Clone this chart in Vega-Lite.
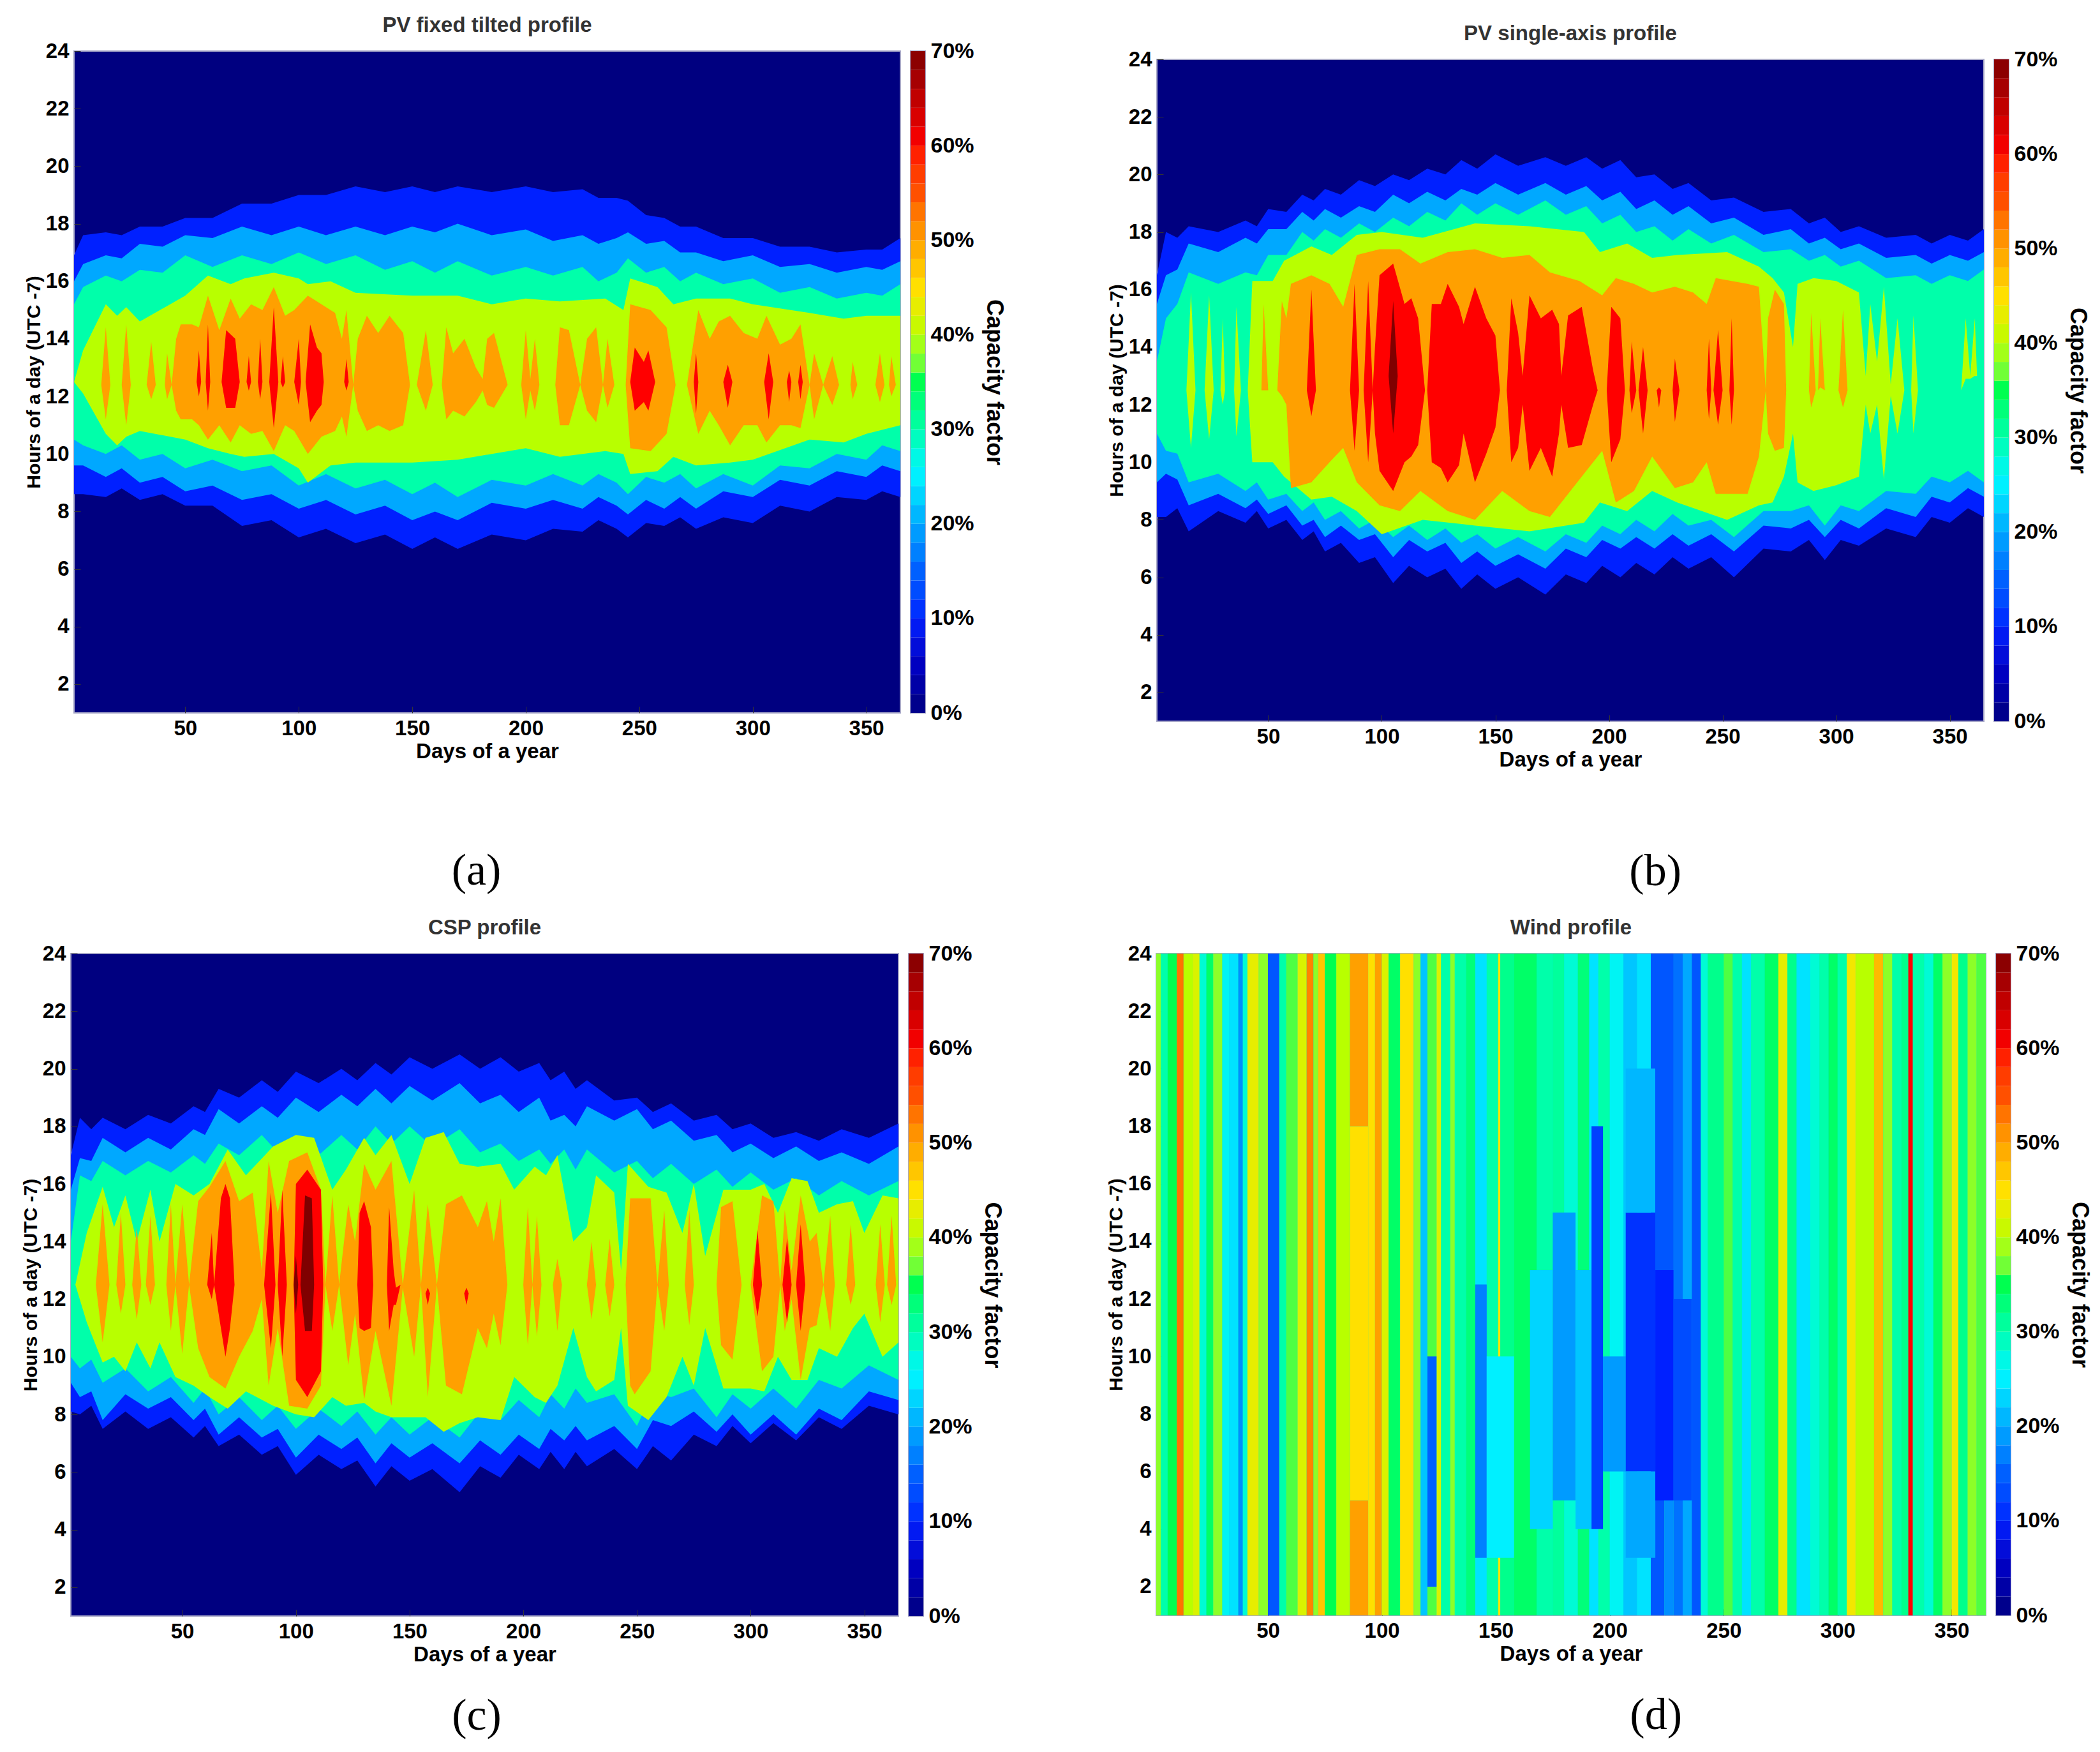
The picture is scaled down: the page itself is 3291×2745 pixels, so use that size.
{"$schema":"https://vega.github.io/schema/vega-lite/v6.json","background":"white","padding":{"left":17,"top":22,"right":5,"bottom":5},
"config":{"range":{"ramp":["#000080","#0000c0","#0020ff","#0060ff","#00a8ff","#00f0ff","#00ffaa","#00ff50","#b8ff00","#ffe000","#ffa000","#ff5000","#ff0000","#c00000","#800000"]},"font":"Liberation Sans","view":{"stroke":"#a8a8c8","strokeWidth":2},
"axis":{"labelFont":"Liberation Sans","labelFontWeight":"bold","labelFontSize":33,"titleFont":"Liberation Sans","titleFontWeight":"bold","titleFontSize":33,"domain":false,"grid":false,"tickColor":"#333333","tickSize":-10,"labelPadding":18,"titlePadding":3,"zindex":1,"labelColor":"#000000","titleColor":"#000000"},
"axisY":{"titleFontSize":30},
"title":{"font":"Liberation Sans","fontWeight":"bold","fontSize":33,"color":"#333333"},"concat":{"spacing":14}},
"datasets":{
"bar":[{"a":0,"b":2,"v":1},{"a":2,"b":4,"v":3},{"a":4,"b":6,"v":5},{"a":6,"b":8,"v":7},{"a":8,"b":10,"v":9},{"a":10,"b":12,"v":11},{"a":12,"b":14,"v":13},{"a":14,"b":16,"v":15},{"a":16,"b":18,"v":17},{"a":18,"b":20,"v":19},{"a":20,"b":22,"v":21},{"a":22,"b":24,"v":23},{"a":24,"b":26,"v":25},{"a":26,"b":28,"v":27},{"a":28,"b":30,"v":29},{"a":30,"b":32,"v":31},{"a":32,"b":34,"v":33},{"a":34,"b":36,"v":35},{"a":36,"b":38,"v":37},{"a":38,"b":40,"v":39},{"a":40,"b":42,"v":41},{"a":42,"b":44,"v":43},{"a":44,"b":46,"v":45},{"a":46,"b":48,"v":47},{"a":48,"b":50,"v":49},{"a":50,"b":52,"v":51},{"a":52,"b":54,"v":53},{"a":54,"b":56,"v":55},{"a":56,"b":58,"v":57},{"a":58,"b":60,"v":59},{"a":60,"b":62,"v":61},{"a":62,"b":64,"v":63},{"a":64,"b":66,"v":65},{"a":66,"b":68,"v":67},{"a":68,"b":70,"v":69}],
"a1":[{"d":1,"a1":8.6,"b1":16.9,"a2":9.6,"b2":16,"a3":10.5,"b3":15.2},{"d":5,"a1":8.6,"b1":17.6,"a2":9.6,"b2":16.6,"a3":10.3,"b3":15.8},{"d":15,"a1":8.5,"b1":17.7,"a2":9.2,"b2":16.9,"a3":10,"b3":16.2},{"d":30,"a1":8.4,"b1":17.9,"a2":9,"b2":17.3,"a3":9.8,"b3":16.4},{"d":50,"a1":8.2,"b1":18.2,"a2":8.7,"b2":17.6,"a3":9.5,"b3":16.9},{"d":75,"a1":7.5,"b1":18.7,"a2":8.4,"b2":17.9,"a3":9.4,"b3":16.9},{"d":100,"a1":7.1,"b1":19,"a2":8.1,"b2":17.9,"a3":8.9,"b3":17},{"d":125,"a1":6.9,"b1":19.3,"a2":7.9,"b2":17.9,"a3":8.8,"b3":16.9},{"d":150,"a1":6.7,"b1":19.3,"a2":7.7,"b2":17.9,"a3":8.6,"b3":16.7},{"d":170,"a1":6.7,"b1":19.3,"a2":7.7,"b2":18,"a3":8.5,"b3":16.7},{"d":200,"a1":7,"b1":19.3,"a2":8.1,"b2":17.8,"a3":8.9,"b3":16.5},{"d":225,"a1":7.3,"b1":19.2,"a2":8.1,"b2":17.6,"a3":8.9,"b3":16.5},{"d":240,"a1":7.4,"b1":18.9,"a2":8.2,"b2":17.5,"a3":9,"b3":16.3},{"d":245,"a1":7.1,"b1":18.8,"a2":7.9,"b2":17.7,"a3":8.6,"b3":16.8},{"d":261,"a1":7.5,"b1":18.2,"a2":8.1,"b2":17.4,"a3":9,"b3":16.5},{"d":275,"a1":7.4,"b1":17.9,"a2":8.1,"b2":17,"a3":8.8,"b3":16.3},{"d":300,"a1":7.6,"b1":17.5,"a2":8.5,"b2":16.9,"a3":8.9,"b3":16.1},{"d":325,"a1":8,"b1":17.2,"a2":8.9,"b2":16.6,"a3":9.5,"b3":15.8},{"d":350,"a1":8.4,"b1":17.1,"a2":9.2,"b2":16.5,"a3":9.8,"b3":15.6},{"d":365,"a1":8.5,"b1":17.5,"a2":9.4,"b2":16.7,"a3":10.1,"b3":15.9},
{"d":22,"a1":8.8,"b1":17.6,"a2":9.5,"b2":16.8,"a3":10.3,"b3":16},{"d":40,"a1":8.6,"b1":17.9,"a2":9.2,"b2":17.2,"a3":10,"b3":16.3},{"d":62,"a1":8.2,"b1":18.2,"a2":8.9,"b2":17.5,"a3":9.8,"b3":16.5},{"d":88,"a1":7.7,"b1":18.7,"a2":8.6,"b2":17.6,"a3":9.6,"b3":16.6},{"d":112,"a1":7.4,"b1":19,"a2":8.4,"b2":17.6,"a3":9.3,"b3":16.6},{"d":138,"a1":7.2,"b1":19.1,"a2":8.2,"b2":17.6,"a3":9.1,"b3":16.4},{"d":160,"a1":7.1,"b1":19.1,"a2":8,"b2":17.7,"a3":9,"b3":16.3},{"d":185,"a1":7.2,"b1":19.1,"a2":8.3,"b2":17.6,"a3":9.1,"b3":16.2},{"d":212,"a1":7.4,"b1":19.1,"a2":8.4,"b2":17.4,"a3":9.3,"b3":16.2},{"d":232,"a1":7.7,"b1":18.9,"a2":8.5,"b2":17.3,"a3":9.3,"b3":16},{"d":253,"a1":7.6,"b1":18.3,"a2":8.4,"b2":17.3,"a3":9.2,"b3":16.3},{"d":268,"a1":7.8,"b1":17.9,"a2":8.5,"b2":17,"a3":9.3,"b3":16},{"d":287,"a1":7.8,"b1":17.5,"a2":8.7,"b2":16.7,"a3":9.3,"b3":15.9},{"d":312,"a1":8.2,"b1":17.2,"a2":9.1,"b2":16.5,"a3":9.6,"b3":15.6},{"d":337,"a1":8.5,"b1":17,"a2":9.4,"b2":16.3,"a3":10,"b3":15.4},{"d":357,"a1":8.7,"b1":17.1,"a2":9.6,"b2":16.4,"a3":10.3,"b3":15.5}],
"a2":[{"d":1,"v":40,"a":12.5,"b":12.5},{"d":5,"v":40,"a":12.1,"b":13.6},{"d":15,"v":40,"a":10.7,"b":15.2},{"d":20,"v":40,"a":10.3,"b":14.8},{"d":24,"v":40,"a":10.6,"b":15.1},{"d":30,"v":40,"a":10.8,"b":14.6},{"d":50,"v":40,"a":10.5,"b":15.5},{"d":60,"v":40,"a":10.2,"b":16.2},{"d":70,"v":40,"a":10,"b":15.9},{"d":76,"v":40,"a":9.9,"b":16.1},{"d":89,"v":40,"a":10,"b":16.3},{"d":100,"v":40,"a":9.5,"b":16.1},{"d":104,"v":40,"a":9,"b":15.9},{"d":114,"v":40,"a":9.6,"b":16},{"d":125,"v":40,"a":9.7,"b":15.6},{"d":150,"v":40,"a":9.7,"b":15.5},{"d":170,"v":40,"a":9.8,"b":15.5},{"d":185,"v":40,"a":10,"b":15.2},{"d":200,"v":40,"a":10.2,"b":15.4},{"d":215,"v":40,"a":9.9,"b":15.3},{"d":235,"v":40,"a":10.1,"b":15.4},{"d":243,"v":40,"a":10,"b":15},{"d":246,"v":40,"a":9.3,"b":16.1},{"d":258,"v":40,"a":9.4,"b":15.8},{"d":265,"v":40,"a":9.9,"b":15.2},{"d":275,"v":40,"a":9.6,"b":15.4},{"d":290,"v":40,"a":9.7,"b":15.4},{"d":300,"v":40,"a":9.8,"b":15.2},{"d":325,"v":40,"a":10.5,"b":14.9},{"d":340,"v":40,"a":10.4,"b":14.7},{"d":350,"v":40,"a":10.7,"b":14.8},{"d":365,"v":40,"a":11,"b":14.8},
{"d":13,"v":50,"a":12.4,"b":12.4},{"d":15,"v":50,"a":11.2,"b":14.4},{"d":17,"v":50,"a":12.4,"b":12.4},{"d":22,"v":50,"a":12.4,"b":12.4},{"d":24,"v":50,"a":11,"b":14.5},{"d":26,"v":50,"a":12.4,"b":12.4},{"d":33,"v":50,"a":12.4,"b":12.4},{"d":35,"v":50,"a":11.9,"b":13.9},{"d":37,"v":50,"a":12.4,"b":12.4},{"d":41,"v":50,"a":12.4,"b":12.4},{"d":42,"v":50,"a":11.9,"b":13.5},{"d":44,"v":50,"a":12.4,"b":12.4},{"d":46,"v":50,"a":11.5,"b":14},{"d":48,"v":50,"a":11.2,"b":14.5},{"d":53,"v":50,"a":11.2,"b":14.5},{"d":56,"v":50,"a":11,"b":14.4},{"d":60,"v":50,"a":10.5,"b":15.5},{"d":65,"v":50,"a":11,"b":14.3},{"d":70,"v":50,"a":10.4,"b":15.4},{"d":74,"v":50,"a":11,"b":14.7},{"d":79,"v":50,"a":10.7,"b":15.2},{"d":84,"v":50,"a":10.8,"b":15},{"d":89,"v":50,"a":10.1,"b":15.8},{"d":94,"v":50,"a":11,"b":14.8},{"d":98,"v":50,"a":10.8,"b":15},{"d":104,"v":50,"a":10,"b":15.5},{"d":110,"v":50,"a":10.6,"b":15.2},{"d":116,"v":50,"a":10.8,"b":14.9},{"d":119,"v":50,"a":11.3,"b":14},{"d":121,"v":50,"a":10.6,"b":15},{"d":124,"v":50,"a":12.4,"b":12.4},{"d":126,"v":50,"a":11.5,"b":14},{"d":130,"v":50,"a":10.8,"b":14.8},{"d":135,"v":50,"a":11,"b":14.2},{"d":140,"v":50,"a":10.8,"b":14.8},{"d":146,"v":50,"a":11,"b":14.2},{"d":149,"v":50,"a":12.4,"b":12.4},{"d":152,"v":50,"a":12.4,"b":12.4},{"d":156,"v":50,"a":11.5,"b":14.3},{"d":159,"v":50,"a":12.4,"b":12.4},{"d":163,"v":50,"a":12.4,"b":12.4},{"d":165,"v":50,"a":11.2,"b":14.4},{"d":168,"v":50,"a":11.5,"b":13.5},{"d":173,"v":50,"a":11.3,"b":14},{"d":178,"v":50,"a":11.8,"b":13},{"d":181,"v":50,"a":12.2,"b":12.6},{"d":183,"v":50,"a":11.7,"b":14},{"d":186,"v":50,"a":11.6,"b":14.2},{"d":192,"v":50,"a":12.4,"b":12.4},{"d":198,"v":50,"a":12.4,"b":12.4},{"d":200,"v":50,"a":11.2,"b":14.3},{"d":202,"v":50,"a":12.2,"b":12.6},{"d":204,"v":50,"a":11.5,"b":14},{"d":206,"v":50,"a":12.4,"b":12.4},{"d":213,"v":50,"a":12.4,"b":12.4},{"d":215,"v":50,"a":11,"b":14.4},{"d":219,"v":50,"a":11,"b":14.3},{"d":224,"v":50,"a":12.4,"b":12.4},{"d":227,"v":50,"a":11.5,"b":14},{"d":231,"v":50,"a":11.1,"b":14.4},{"d":234,"v":50,"a":12.4,"b":12.4},{"d":236,"v":50,"a":11.6,"b":14},{"d":239,"v":50,"a":12.4,"b":12.4},{"d":244,"v":50,"a":12.4,"b":12.4},{"d":246,"v":50,"a":10.2,"b":15.2},{"d":255,"v":50,"a":10.1,"b":15},{"d":262,"v":50,"a":10.7,"b":14.4},{"d":266,"v":50,"a":12.4,"b":12.4},{"d":271,"v":50,"a":12.4,"b":12.4},{"d":276,"v":50,"a":10.7,"b":15},{"d":281,"v":50,"a":11.5,"b":14},{"d":285,"v":50,"a":11,"b":14.6},{"d":290,"v":50,"a":10.3,"b":14.8},{"d":296,"v":50,"a":11,"b":14.2},{"d":302,"v":50,"a":11,"b":14},{"d":306,"v":50,"a":10.4,"b":14.8},{"d":312,"v":50,"a":11,"b":13.8},{"d":317,"v":50,"a":11,"b":14},{"d":321,"v":50,"a":10.9,"b":14.5},{"d":325,"v":50,"a":12.4,"b":12.4},{"d":327,"v":50,"a":11.2,"b":13.5},{"d":331,"v":50,"a":12.4,"b":12.4},{"d":335,"v":50,"a":11.7,"b":13.4},{"d":338,"v":50,"a":12.4,"b":12.4},{"d":343,"v":50,"a":12.4,"b":12.4},{"d":344,"v":50,"a":11.9,"b":13.2},{"d":346,"v":50,"a":12.4,"b":12.4},{"d":354,"v":50,"a":12.4,"b":12.4},{"d":356,"v":50,"a":11.8,"b":13.5},{"d":358,"v":50,"a":12.4,"b":12.4},{"d":360,"v":50,"a":12.4,"b":12.4},{"d":361,"v":50,"a":12,"b":13.4},{"d":363,"v":50,"a":12.4,"b":12.4},
{"d":55,"v":60,"a":12.5,"b":12.5},{"d":56,"v":60,"a":12,"b":13.6},{"d":57,"v":60,"a":12.5,"b":12.5},{"d":59,"v":60,"a":12.5,"b":12.5},{"d":60,"v":60,"a":11.5,"b":14.5},{"d":61,"v":60,"a":12.5,"b":12.5},{"d":66,"v":60,"a":12.5,"b":12.5},{"d":68,"v":60,"a":11.6,"b":14.3},{"d":72,"v":60,"a":11.6,"b":14},{"d":74,"v":60,"a":12.5,"b":12.5},{"d":77,"v":60,"a":12.5,"b":12.5},{"d":78,"v":60,"a":12.2,"b":13.4},{"d":79,"v":60,"a":12.5,"b":12.5},{"d":82,"v":60,"a":12.5,"b":12.5},{"d":83,"v":60,"a":11.9,"b":14},{"d":84,"v":60,"a":12.5,"b":12.5},{"d":87,"v":60,"a":12.5,"b":12.5},{"d":89,"v":60,"a":10.9,"b":15.1},{"d":91,"v":60,"a":12.5,"b":12.5},{"d":92,"v":60,"a":12.5,"b":12.5},{"d":93,"v":60,"a":12.3,"b":13.4},{"d":94,"v":60,"a":12.5,"b":12.5},{"d":98,"v":60,"a":12.5,"b":12.5},{"d":100,"v":60,"a":11.7,"b":14},{"d":101,"v":60,"a":12.5,"b":12.5},{"d":103,"v":60,"a":12.5,"b":12.5},{"d":105,"v":60,"a":11.1,"b":14.5},{"d":108,"v":60,"a":11.5,"b":13.7},{"d":110,"v":60,"a":11.7,"b":13.5},{"d":111,"v":60,"a":12.5,"b":12.5},{"d":120,"v":60,"a":12.5,"b":12.5},{"d":121,"v":60,"a":12.2,"b":13.3},{"d":122,"v":60,"a":12.5,"b":12.5},{"d":246,"v":60,"a":12.5,"b":12.5},{"d":248,"v":60,"a":11.5,"b":13.7},{"d":252,"v":60,"a":11.8,"b":13.2},{"d":254,"v":60,"a":11.5,"b":13.6},{"d":257,"v":60,"a":12.5,"b":12.5},{"d":274,"v":60,"a":12.5,"b":12.5},{"d":275,"v":60,"a":11.4,"b":13.5},{"d":276,"v":60,"a":12.5,"b":12.5},{"d":287,"v":60,"a":12.5,"b":12.5},{"d":289,"v":60,"a":11.6,"b":13.1},{"d":291,"v":60,"a":12.5,"b":12.5},{"d":305,"v":60,"a":12.5,"b":12.5},{"d":307,"v":60,"a":11.2,"b":13.5},{"d":309,"v":60,"a":12.5,"b":12.5},{"d":315,"v":60,"a":12.5,"b":12.5},{"d":316,"v":60,"a":11.8,"b":12.9},{"d":317,"v":60,"a":12.5,"b":12.5},{"d":320,"v":60,"a":12.5,"b":12.5},{"d":321,"v":60,"a":11.9,"b":13.1},{"d":322,"v":60,"a":12.5,"b":12.5}],
"b1":[{"d":1,"a1":8.1,"b1":16.5,"a2":9.3,"b2":15.5,"a3":11,"b3":13.5},{"d":5,"a1":8.1,"b1":18,"a2":9.6,"b2":16.5,"a3":10.4,"b3":15},{"d":15,"a1":7.6,"b1":18.2,"a2":8.5,"b2":17.6,"a3":9.3,"b3":16.6},{"d":40,"a1":7.9,"b1":18.4,"a2":8.4,"b2":17.8,"a3":9,"b3":16.6},{"d":50,"a1":7.7,"b1":18.8,"a2":8.2,"b2":18.1,"a3":8.7,"b3":17.2},{"d":65,"a1":7.3,"b1":19.3,"a2":7.8,"b2":18.7,"a3":8.3,"b3":18},{"d":75,"a1":6.9,"b1":19.5,"a2":7.4,"b2":18.8,"a3":8,"b3":18.1},{"d":90,"a1":6.5,"b1":19.8,"a2":7.3,"b2":18.9,"a3":7.7,"b3":18.3},{"d":105,"a1":5.8,"b1":20,"a2":6.7,"b2":19.3,"a3":7.4,"b3":18.5},{"d":120,"a1":6,"b1":20.2,"a2":6.9,"b2":19.4,"a3":7.3,"b3":18.7},{"d":135,"a1":5.6,"b1":20.5,"a2":6.5,"b2":19.5,"a3":7.2,"b3":19},{"d":150,"a1":5.6,"b1":20.7,"a2":6.4,"b2":19.7,"a3":7,"b3":19},{"d":172,"a1":5.4,"b1":20.6,"a2":6.3,"b2":19.7,"a3":6.9,"b3":19.1},{"d":190,"a1":5.8,"b1":20.6,"a2":6.7,"b2":19.6,"a3":7.2,"b3":18.9},{"d":205,"a1":6,"b1":20.5,"a2":7,"b2":19.4,"a3":7.5,"b3":18.6},{"d":220,"a1":6.1,"b1":20,"a2":7,"b2":19.1,"a3":7.6,"b3":18.2},{"d":235,"a1":6.3,"b1":19.7,"a2":7.1,"b2":18.9,"a3":7.8,"b3":18.1},{"d":255,"a1":6,"b1":19.2,"a2":6.9,"b2":18.5,"a3":7.4,"b3":17.9},{"d":280,"a1":6.9,"b1":18.8,"a2":7.7,"b2":18.1,"a3":8.3,"b3":17.4},{"d":295,"a1":6.6,"b1":18.5,"a2":7.4,"b2":17.8,"a3":7.8,"b3":17.2},{"d":310,"a1":7.1,"b1":18.2,"a2":7.7,"b2":17.6,"a3":8.3,"b3":17},{"d":335,"a1":7.4,"b1":17.9,"a2":8.1,"b2":17.2,"a3":8.9,"b3":16.5},{"d":350,"a1":7.9,"b1":17.9,"a2":8.6,"b2":17.2,"a3":9.3,"b3":16.5},{"d":365,"a1":8.1,"b1":18.1,"a2":8.8,"b2":17.3,"a3":9.3,"b3":16.7},
{"d":10,"a1":8.4,"b1":17.8,"a2":9.4,"b2":16.7,"a3":10.3,"b3":15.5},{"d":28,"a1":8.3,"b1":18,"a2":8.9,"b2":17.3,"a3":9.6,"b3":16.2},{"d":45,"a1":8.3,"b1":18.2,"a2":8.7,"b2":17.6,"a3":9.3,"b3":16.5},{"d":58,"a1":8,"b1":18.7,"a2":8.5,"b2":18.1,"a3":8.9,"b3":17.2},{"d":70,"a1":7.6,"b1":19.1,"a2":8,"b2":18.4,"a3":8.6,"b3":17.7},{"d":82,"a1":7.2,"b1":19.3,"a2":7.8,"b2":18.5,"a3":8.3,"b3":17.8},{"d":97,"a1":6.7,"b1":19.6,"a2":7.5,"b2":18.7,"a3":8,"b3":18},{"d":112,"a1":6.4,"b1":19.8,"a2":7.3,"b2":19,"a3":7.8,"b3":18.2},{"d":128,"a1":6.3,"b1":20,"a2":7.2,"b2":19.1,"a3":7.7,"b3":18.4},{"d":142,"a1":6.1,"b1":20.2,"a2":6.9,"b2":19.3,"a3":7.5,"b3":18.6},{"d":160,"a1":6,"b1":20.3,"a2":6.8,"b2":19.3,"a3":7.4,"b3":18.6},{"d":181,"a1":6.1,"b1":20.3,"a2":7,"b2":19.3,"a3":7.5,"b3":18.6},{"d":197,"a1":6.4,"b1":20.2,"a2":7.3,"b2":19.1,"a3":7.8,"b3":18.3},{"d":212,"a1":6.5,"b1":19.9,"a2":7.4,"b2":18.8,"a3":8,"b3":18},{"d":228,"a1":6.7,"b1":19.5,"a2":7.5,"b2":18.6,"a3":8.2,"b3":17.7},{"d":245,"a1":6.7,"b1":19.1,"a2":7.5,"b2":18.3,"a3":8,"b3":17.6},{"d":268,"a1":7,"b1":18.7,"a2":7.8,"b2":17.9,"a3":8.3,"b3":17.3},{"d":288,"a1":7.3,"b1":18.3,"a2":8,"b2":17.6,"a3":8.5,"b3":17},{"d":302,"a1":7.3,"b1":18,"a2":8,"b2":17.4,"a3":8.5,"b3":16.8},{"d":322,"a1":7.7,"b1":17.8,"a2":8.4,"b2":17.1,"a3":9,"b3":16.4},{"d":342,"a1":8.1,"b1":17.6,"a2":8.8,"b2":16.9,"a3":9.5,"b3":16.2},{"d":358,"a1":8.4,"b1":17.7,"a2":9.1,"b2":17,"a3":9.7,"b3":16.3}],
"b2":[{"d":14,"v":40,"a":12.5,"b":12.5},{"d":16,"v":40,"a":10.5,"b":15.9},{"d":18,"v":40,"a":12.5,"b":12.5},{"d":22,"v":40,"a":12.5,"b":12.5},{"d":24,"v":40,"a":10.8,"b":15.8},{"d":26,"v":40,"a":12.5,"b":12.5},{"d":29,"v":40,"a":12.5,"b":12.5},{"d":30,"v":40,"a":12,"b":15},{"d":31,"v":40,"a":12.5,"b":12.5},{"d":35,"v":40,"a":12.5,"b":12.5},{"d":36,"v":40,"a":10.9,"b":15.4},{"d":38,"v":40,"a":12.5,"b":12.5},{"d":41,"v":40,"a":12.5,"b":12.5},{"d":43,"v":40,"a":10,"b":16.3},{"d":52,"v":40,"a":10,"b":16.3},{"d":57,"v":40,"a":9.5,"b":17},{"d":69,"v":40,"a":8.7,"b":17.5},{"d":78,"v":40,"a":8.8,"b":17.2},{"d":89,"v":40,"a":8.3,"b":17.9},{"d":100,"v":40,"a":7.5,"b":18},{"d":118,"v":40,"a":8,"b":17.8},{"d":141,"v":40,"a":7.8,"b":18.3},{"d":165,"v":40,"a":7.6,"b":18.2},{"d":189,"v":40,"a":7.9,"b":18},{"d":196,"v":40,"a":8.6,"b":17.3},{"d":208,"v":40,"a":8.3,"b":17.6},{"d":219,"v":40,"a":9,"b":17.1},{"d":230,"v":40,"a":8.6,"b":17.2},{"d":252,"v":40,"a":8,"b":17.3},{"d":266,"v":40,"a":8.5,"b":16.8},{"d":272,"v":40,"a":8.6,"b":16.4},{"d":277,"v":40,"a":9.5,"b":15.9},{"d":281,"v":40,"a":11,"b":14},{"d":283,"v":40,"a":9.3,"b":16.2},{"d":290,"v":40,"a":9,"b":16.4},{"d":300,"v":40,"a":9.2,"b":16.3},{"d":310,"v":40,"a":9.5,"b":15.9},{"d":313,"v":40,"a":12,"b":13},{"d":315,"v":40,"a":11,"b":15.5},{"d":318,"v":40,"a":12,"b":13.5},{"d":321,"v":40,"a":9.4,"b":16.1},{"d":324,"v":40,"a":12.3,"b":12.7},{"d":327,"v":40,"a":11,"b":15},{"d":330,"v":40,"a":12.5,"b":12.5},{"d":333,"v":40,"a":12.5,"b":12.5},{"d":334,"v":40,"a":11,"b":15.1},{"d":336,"v":40,"a":12.5,"b":12.5},{"d":355,"v":40,"a":12.5,"b":12.5},{"d":357,"v":40,"a":12.9,"b":15},{"d":359,"v":40,"a":12.9,"b":13},{"d":361,"v":40,"a":13,"b":15},{"d":362,"v":40,"a":13,"b":13},
{"d":47,"v":50,"a":12.5,"b":12.5},{"d":48,"v":50,"a":12.5,"b":15.5},{"d":50,"v":50,"a":12.5,"b":12.5},{"d":54,"v":50,"a":12.5,"b":12.5},{"d":56,"v":50,"a":12.3,"b":15.6},{"d":58,"v":50,"a":12,"b":15},{"d":60,"v":50,"a":9.1,"b":16.2},{"d":69,"v":50,"a":9.3,"b":16.5},{"d":77,"v":50,"a":10,"b":16.2},{"d":83,"v":50,"a":10.5,"b":15.4},{"d":89,"v":50,"a":9.3,"b":17.2},{"d":99,"v":50,"a":8.5,"b":17.4},{"d":108,"v":50,"a":8.3,"b":17.4},{"d":117,"v":50,"a":9,"b":16.9},{"d":129,"v":50,"a":8.3,"b":17.3},{"d":141,"v":50,"a":8,"b":17.4},{"d":153,"v":50,"a":9,"b":17.1},{"d":165,"v":50,"a":8.3,"b":17.2},{"d":174,"v":50,"a":8.1,"b":16.6},{"d":187,"v":50,"a":9.4,"b":16.3},{"d":197,"v":50,"a":10.4,"b":15.8},{"d":203,"v":50,"a":8.6,"b":16.4},{"d":211,"v":50,"a":9,"b":16.2},{"d":219,"v":50,"a":10.2,"b":15.9},{"d":229,"v":50,"a":9.1,"b":16.1},{"d":237,"v":50,"a":9.3,"b":15.9},{"d":243,"v":50,"a":10,"b":15.5},{"d":247,"v":50,"a":8.9,"b":16.4},{"d":261,"v":50,"a":8.9,"b":16.2},{"d":266,"v":50,"a":10.2,"b":16.1},{"d":269,"v":50,"a":12.5,"b":12.5},{"d":270,"v":50,"a":11,"b":15},{"d":273,"v":50,"a":10.4,"b":16},{"d":277,"v":50,"a":10.5,"b":15.5},{"d":278,"v":50,"a":12.5,"b":12.5},{"d":288,"v":50,"a":12.5,"b":12.5},{"d":289,"v":50,"a":11.9,"b":15.2},{"d":291,"v":50,"a":12.5,"b":12.5},{"d":292,"v":50,"a":12.5,"b":12.5},{"d":293,"v":50,"a":12.6,"b":15},{"d":295,"v":50,"a":12.5,"b":12.5},{"d":301,"v":50,"a":12.5,"b":12.5},{"d":303,"v":50,"a":11.9,"b":15.3},{"d":305,"v":50,"a":12.5,"b":12.5},
{"d":67,"v":60,"a":12.5,"b":12.5},{"d":69,"v":60,"a":11.6,"b":16},{"d":71,"v":60,"a":12.5,"b":12.5},{"d":86,"v":60,"a":12.5,"b":12.5},{"d":88,"v":60,"a":10.4,"b":16.2},{"d":90,"v":60,"a":12.5,"b":12.5},{"d":92,"v":60,"a":12.5,"b":12.5},{"d":94,"v":60,"a":10,"b":16.3},{"d":96,"v":60,"a":12.5,"b":12.5},{"d":97,"v":60,"a":11,"b":14},{"d":99,"v":60,"a":9.7,"b":16.5},{"d":105,"v":60,"a":9,"b":16.9},{"d":110,"v":60,"a":10,"b":15.5},{"d":113,"v":60,"a":10.2,"b":15.7},{"d":116,"v":60,"a":10.6,"b":15},{"d":119,"v":60,"a":12.5,"b":12.5},{"d":120,"v":60,"a":12.5,"b":12.5},{"d":122,"v":60,"a":10,"b":15.5},{"d":126,"v":60,"a":9.8,"b":15.5},{"d":129,"v":60,"a":9.3,"b":16.2},{"d":134,"v":60,"a":9.9,"b":15.4},{"d":136,"v":60,"a":11,"b":14.8},{"d":141,"v":60,"a":9.3,"b":16.1},{"d":146,"v":60,"a":10.3,"b":15},{"d":150,"v":60,"a":11.2,"b":14.4},{"d":152,"v":60,"a":12.5,"b":12.5},{"d":155,"v":60,"a":12.5,"b":12.5},{"d":157,"v":60,"a":10,"b":15.7},{"d":160,"v":60,"a":10.5,"b":14.5},{"d":162,"v":60,"a":12,"b":13},{"d":165,"v":60,"a":9.7,"b":15.8},{"d":170,"v":60,"a":10.5,"b":15},{"d":175,"v":60,"a":9.5,"b":15.3},{"d":178,"v":60,"a":11,"b":14.8},{"d":179,"v":60,"a":12,"b":13},{"d":182,"v":60,"a":10.5,"b":15.1},{"d":188,"v":60,"a":10.6,"b":15.4},{"d":193,"v":60,"a":12,"b":13.2},{"d":195,"v":60,"a":12.5,"b":12.5},{"d":199,"v":60,"a":12.5,"b":12.5},{"d":201,"v":60,"a":10,"b":15.4},{"d":205,"v":60,"a":10.8,"b":15},{"d":207,"v":60,"a":12.5,"b":12.5},{"d":209,"v":60,"a":12.5,"b":12.5},{"d":210,"v":60,"a":11.7,"b":14.2},{"d":212,"v":60,"a":12.5,"b":12.5},{"d":213,"v":60,"a":12.5,"b":12.5},{"d":215,"v":60,"a":11,"b":14},{"d":217,"v":60,"a":12.5,"b":12.5},{"d":221,"v":60,"a":12.5,"b":12.5},{"d":222,"v":60,"a":11.9,"b":12.6},{"d":223,"v":60,"a":12.5,"b":12.5},{"d":228,"v":60,"a":12.5,"b":12.5},{"d":229,"v":60,"a":11.4,"b":13.6},{"d":231,"v":60,"a":12.5,"b":12.5},{"d":243,"v":60,"a":12.5,"b":12.5},{"d":244,"v":60,"a":11.5,"b":14.3},{"d":245,"v":60,"a":12.5,"b":12.5},{"d":246,"v":60,"a":12.5,"b":12.5},{"d":248,"v":60,"a":11.3,"b":14.6},{"d":250,"v":60,"a":12.5,"b":12.5},{"d":253,"v":60,"a":12.5,"b":12.5},{"d":254,"v":60,"a":11.3,"b":15},{"d":255,"v":60,"a":12.5,"b":12.5},
{"d":103,"v":70,"a":13,"b":13},{"d":105,"v":70,"a":11,"b":15.6},{"d":107,"v":70,"a":13,"b":13}],
"c1":[{"d":1,"a1":8.1,"b1":17,"a2":9.1,"b2":15.8,"a3":10,"b3":14},{"d":5,"a1":8,"b1":18.3,"a2":8.6,"b2":16.9,"a3":9.6,"b3":16.3},{"d":15,"a1":7.5,"b1":18.3,"a2":7.8,"b2":17.6,"a3":9.1,"b3":16.8},{"d":35,"a1":7.5,"b1":18.4,"a2":8.2,"b2":17.6,"a3":8.8,"b3":16.8},{"d":55,"a1":7.2,"b1":18.7,"a2":7.8,"b2":17.9,"a3":8.4,"b3":17},{"d":66,"a1":6.9,"b1":19.3,"a2":7.3,"b2":18.6,"a3":8,"b3":17.4},{"d":85,"a1":6.6,"b1":19.6,"a2":7.2,"b2":18.7,"a3":7.8,"b3":17.7},{"d":100,"a1":5.9,"b1":19.9,"a2":6.5,"b2":19,"a3":7.5,"b3":17.7},{"d":120,"a1":6.1,"b1":20,"a2":6.8,"b2":19.1,"a3":7.6,"b3":17.7},{"d":135,"a1":5.5,"b1":20.2,"a2":6.3,"b2":19.3,"a3":7.3,"b3":18},{"d":150,"a1":5.7,"b1":20.4,"a2":6.5,"b2":19.4,"a3":7.3,"b3":18},{"d":172,"a1":5.3,"b1":20.5,"a2":6.3,"b2":19.5,"a3":7.2,"b3":17.9},{"d":190,"a1":5.8,"b1":20.4,"a2":6.6,"b2":19.1,"a3":7.8,"b3":17.4},{"d":207,"a1":6.1,"b1":20.2,"a2":6.8,"b2":19,"a3":7.9,"b3":17.2},{"d":218,"a1":6.1,"b1":19.9,"a2":7.1,"b2":18.4,"a3":8.2,"b3":17.2},{"d":228,"a1":6.2,"b1":19.6,"a2":7.1,"b2":18.7,"a3":8.4,"b3":17.2},{"d":250,"a1":6.1,"b1":19,"a2":6.8,"b2":18.6,"a3":7.6,"b3":16.8},{"d":265,"a1":6.4,"b1":18.8,"a2":7.6,"b2":18.2,"a3":8.6,"b3":16.7},{"d":285,"a1":6.9,"b1":18.4,"a2":7.4,"b2":17.7,"a3":7.9,"b3":16.5},{"d":300,"a1":7,"b1":18.1,"a2":7.3,"b2":17.4,"a3":8.2,"b3":16.4},{"d":320,"a1":7.1,"b1":17.8,"a2":7.3,"b2":17.3,"a3":8.2,"b3":16.2},{"d":340,"a1":7.5,"b1":17.9,"a2":7.8,"b2":17.1,"a3":8.9,"b3":16.1},{"d":365,"a1":8,"b1":18.1,"a2":8.5,"b2":17.3,"a3":9.2,"b3":16.1},
{"d":10,"a1":8.3,"b1":17.9,"a2":8.8,"b2":16.8,"a3":9.9,"b3":16.1},{"d":25,"a1":8.1,"b1":17.9,"a2":8.7,"b2":17.1,"a3":9.6,"b3":16.3},{"d":45,"a1":7.9,"b1":18.1,"a2":8.6,"b2":17.2,"a3":9.3,"b3":16.4},{"d":60,"a1":7.6,"b1":18.5,"a2":8.2,"b2":17.7,"a3":8.9,"b3":16.7},{"d":75,"a1":7.3,"b1":19,"a2":7.9,"b2":18.1,"a3":8.6,"b3":17},{"d":92,"a1":6.9,"b1":19.2,"a2":7.5,"b2":18.3,"a3":8.3,"b3":17.1},{"d":110,"a1":6.6,"b1":19.5,"a2":7.3,"b2":18.5,"a3":8.2,"b3":17},{"d":127,"a1":6.4,"b1":19.6,"a2":7.2,"b2":18.7,"a3":8.1,"b3":17.2},{"d":142,"a1":6.2,"b1":19.8,"a2":7,"b2":18.8,"a3":7.9,"b3":17.4},{"d":160,"a1":6.1,"b1":20,"a2":7,"b2":18.9,"a3":7.9,"b3":17.3},{"d":181,"a1":6.2,"b1":20,"a2":7.1,"b2":18.8,"a3":8.1,"b3":17.1},{"d":198,"a1":6.6,"b1":19.9,"a2":7.3,"b2":18.5,"a3":8.5,"b3":16.8},{"d":212,"a1":6.7,"b1":19.6,"a2":7.5,"b2":18.2,"a3":8.7,"b3":16.7},{"d":223,"a1":6.7,"b1":19.3,"a2":7.6,"b2":18,"a3":8.9,"b3":16.5},{"d":240,"a1":6.8,"b1":18.9,"a2":7.6,"b2":18.2,"a3":8.7,"b3":16.4},{"d":257,"a1":6.9,"b1":18.5,"a2":7.8,"b2":17.9,"a3":8.8,"b3":16.2},{"d":275,"a1":7.3,"b1":18.2,"a2":8.1,"b2":17.5,"a3":8.9,"b3":16},{"d":292,"a1":7.6,"b1":17.9,"a2":8,"b2":17.1,"a3":8.7,"b3":15.9},{"d":310,"a1":7.7,"b1":17.6,"a2":8,"b2":16.9,"a3":8.9,"b3":15.8},{"d":330,"a1":7.9,"b1":17.5,"a2":8.2,"b2":16.8,"a3":9.2,"b3":15.6},{"d":352,"a1":8.3,"b1":17.6,"a2":8.8,"b2":16.7,"a3":9.7,"b3":15.6}],
"c2":[{"d":3,"v":40,"a":12.5,"b":12.5},{"d":8,"v":40,"a":11.2,"b":14.3},{"d":15,"v":40,"a":9.8,"b":15.9},{"d":20,"v":40,"a":10,"b":14.5},{"d":25,"v":40,"a":9.5,"b":15.6},{"d":30,"v":40,"a":10.5,"b":14},{"d":36,"v":40,"a":9.6,"b":15.8},{"d":40,"v":40,"a":10.5,"b":14},{"d":47,"v":40,"a":9.3,"b":16},{"d":55,"v":40,"a":9,"b":15.6},{"d":62,"v":40,"a":8.6,"b":16},{"d":70,"v":40,"a":8.2,"b":17.2},{"d":78,"v":40,"a":8.8,"b":16.3},{"d":90,"v":40,"a":8.3,"b":17.3},{"d":100,"v":40,"a":8,"b":17.7},{"d":108,"v":40,"a":7.9,"b":17.6},{"d":116,"v":40,"a":8.6,"b":15.8},{"d":122,"v":40,"a":8.3,"b":16.5},{"d":130,"v":40,"a":8.4,"b":17.6},{"d":135,"v":40,"a":8.1,"b":17},{"d":142,"v":40,"a":7.9,"b":17.7},{"d":150,"v":40,"a":7.9,"b":16},{"d":157,"v":40,"a":7.9,"b":17.6},{"d":165,"v":40,"a":7.4,"b":17.8},{"d":172,"v":40,"a":7.7,"b":16.7},{"d":180,"v":40,"a":7.9,"b":16.6},{"d":190,"v":40,"a":7.8,"b":16.7},{"d":196,"v":40,"a":9.3,"b":15.8},{"d":205,"v":40,"a":8.6,"b":16.6},{"d":210,"v":40,"a":8.4,"b":16.3},{"d":215,"v":40,"a":9,"b":17},{"d":222,"v":40,"a":11,"b":14},{"d":228,"v":40,"a":9.3,"b":14.5},{"d":232,"v":40,"a":8.8,"b":16.3},{"d":240,"v":40,"a":9.2,"b":15.7},{"d":243,"v":40,"a":11,"b":13},{"d":246,"v":40,"a":8.3,"b":16.7},{"d":255,"v":40,"a":7.8,"b":15.9},{"d":263,"v":40,"a":8.6,"b":15.7},{"d":270,"v":40,"a":10,"b":14.3},{"d":275,"v":40,"a":9,"b":16},{"d":280,"v":40,"a":11,"b":13.5},{"d":288,"v":40,"a":8.9,"b":15.8},{"d":300,"v":40,"a":8.9,"b":15.8},{"d":306,"v":40,"a":8.8,"b":16},{"d":312,"v":40,"a":10,"b":15},{"d":318,"v":40,"a":9.2,"b":16.2},{"d":325,"v":40,"a":9.2,"b":16.1},{"d":330,"v":40,"a":10.3,"b":15},{"d":338,"v":40,"a":10,"b":15.3},{"d":345,"v":40,"a":11,"b":15.4},{"d":350,"v":40,"a":11.5,"b":14.3},{"d":358,"v":40,"a":10,"b":15.6},{"d":365,"v":40,"a":10.5,"b":15.5},
{"d":12,"v":50,"a":12.5,"b":12.5},{"d":15,"v":50,"a":10.5,"b":15.3},{"d":18,"v":50,"a":12.5,"b":12.5},{"d":21,"v":50,"a":12.5,"b":12.5},{"d":23,"v":50,"a":11.5,"b":15},{"d":25,"v":50,"a":12.5,"b":12.5},{"d":28,"v":50,"a":12.5,"b":12.5},{"d":30,"v":50,"a":11.3,"b":14.5},{"d":32,"v":50,"a":12.5,"b":12.5},{"d":34,"v":50,"a":12.5,"b":12.5},{"d":36,"v":50,"a":11.8,"b":14.9},{"d":38,"v":50,"a":12.5,"b":12.5},{"d":43,"v":50,"a":12.5,"b":12.5},{"d":45,"v":50,"a":10.9,"b":15.3},{"d":47,"v":50,"a":12.5,"b":12.5},{"d":50,"v":50,"a":10.1,"b":15.3},{"d":53,"v":50,"a":12.5,"b":12.5},{"d":57,"v":50,"a":10.3,"b":15.4},{"d":62,"v":50,"a":9.3,"b":15.9},{"d":69,"v":50,"a":8.9,"b":16.8},{"d":75,"v":50,"a":10,"b":15.4},{"d":81,"v":50,"a":10.9,"b":15.7},{"d":85,"v":50,"a":12,"b":13},{"d":88,"v":50,"a":9,"b":16.8},{"d":92,"v":50,"a":11,"b":15},{"d":97,"v":50,"a":8.3,"b":16.8},{"d":105,"v":50,"a":8.2,"b":17.1},{"d":111,"v":50,"a":9,"b":15.8},{"d":113,"v":50,"a":12.5,"b":12.5},{"d":116,"v":50,"a":10.9,"b":15.6},{"d":119,"v":50,"a":12.5,"b":12.5},{"d":123,"v":50,"a":9.7,"b":15.3},{"d":126,"v":50,"a":11.5,"b":14},{"d":130,"v":50,"a":8.5,"b":16.7},{"d":135,"v":50,"a":10.9,"b":15.8},{"d":142,"v":50,"a":8.3,"b":16.8},{"d":147,"v":50,"a":12.4,"b":12.5},{"d":152,"v":50,"a":10,"b":15.8},{"d":155,"v":50,"a":12.5,"b":12.5},{"d":158,"v":50,"a":8.6,"b":15.3},{"d":162,"v":50,"a":12.5,"b":12.5},{"d":166,"v":50,"a":9,"b":15.3},{"d":173,"v":50,"a":8.7,"b":15.6},{"d":180,"v":50,"a":11,"b":14.5},{"d":184,"v":50,"a":10.3,"b":15.4},{"d":187,"v":50,"a":11.5,"b":14},{"d":190,"v":50,"a":10.4,"b":15.5},{"d":193,"v":50,"a":12.5,"b":12.5},{"d":200,"v":50,"a":12.5,"b":12.5},{"d":202,"v":50,"a":10.4,"b":15.2},{"d":204,"v":50,"a":12.5,"b":12.5},{"d":206,"v":50,"a":10.7,"b":14.9},{"d":208,"v":50,"a":12.5,"b":12.5},{"d":213,"v":50,"a":12.5,"b":12.5},{"d":215,"v":50,"a":10.9,"b":13.4},{"d":217,"v":50,"a":12.5,"b":12.5},{"d":228,"v":50,"a":12.5,"b":12.5},{"d":230,"v":50,"a":11.3,"b":14},{"d":232,"v":50,"a":12.5,"b":12.5},{"d":236,"v":50,"a":12.5,"b":12.5},{"d":238,"v":50,"a":11.4,"b":14.1},{"d":240,"v":50,"a":12.5,"b":12.5},{"d":245,"v":50,"a":12.5,"b":12.5},{"d":247,"v":50,"a":9,"b":15.5},{"d":249,"v":50,"a":8.7,"b":15.5},{"d":256,"v":50,"a":9.5,"b":15.5},{"d":259,"v":50,"a":12.5,"b":12.5},{"d":262,"v":50,"a":10.9,"b":15.1},{"d":264,"v":50,"a":12.5,"b":12.5},{"d":271,"v":50,"a":12.5,"b":12.5},{"d":273,"v":50,"a":11.1,"b":15.1},{"d":275,"v":50,"a":12.5,"b":12.5},{"d":285,"v":50,"a":12.5,"b":12.5},{"d":287,"v":50,"a":10.4,"b":15.2},{"d":292,"v":50,"a":9.9,"b":15.4},{"d":296,"v":50,"a":12.5,"b":12.5},{"d":300,"v":50,"a":12.5,"b":12.5},{"d":305,"v":50,"a":9.5,"b":15.6},{"d":310,"v":50,"a":10,"b":15.4},{"d":313,"v":50,"a":12.5,"b":12.5},{"d":315,"v":50,"a":10.9,"b":15.1},{"d":318,"v":50,"a":12,"b":13},{"d":322,"v":50,"a":9.2,"b":15.6},{"d":326,"v":50,"a":11,"b":14},{"d":329,"v":50,"a":11.1,"b":14.3},{"d":332,"v":50,"a":12.5,"b":12.5},{"d":335,"v":50,"a":10.9,"b":14.9},{"d":337,"v":50,"a":12.5,"b":12.5},{"d":342,"v":50,"a":12.5,"b":12.5},{"d":344,"v":50,"a":11.8,"b":14.6},{"d":346,"v":50,"a":12.5,"b":12.5},{"d":355,"v":50,"a":12.5,"b":12.5},{"d":357,"v":50,"a":11.2,"b":14.6},{"d":359,"v":50,"a":12.5,"b":12.5},{"d":360,"v":50,"a":12.5,"b":12.5},{"d":362,"v":50,"a":11.8,"b":14.9},{"d":364,"v":50,"a":12.5,"b":12.5},
{"d":61,"v":60,"a":12.5,"b":12.5},{"d":63,"v":60,"a":12,"b":14.3},{"d":64,"v":60,"a":12.5,"b":12.5},{"d":67,"v":60,"a":11,"b":15.5},{"d":69,"v":60,"a":10,"b":16},{"d":71,"v":60,"a":11,"b":15.5},{"d":73,"v":60,"a":12.5,"b":12.5},{"d":86,"v":60,"a":12.5,"b":12.5},{"d":89,"v":60,"a":10.3,"b":15.7},{"d":91,"v":60,"a":12.5,"b":12.5},{"d":92,"v":60,"a":12.5,"b":12.5},{"d":94,"v":60,"a":10,"b":15.8},{"d":96,"v":60,"a":12.5,"b":12.5},{"d":99,"v":60,"a":12.5,"b":12.5},{"d":100,"v":60,"a":9.2,"b":16},{"d":105,"v":60,"a":8.6,"b":16.5},{"d":111,"v":60,"a":9.5,"b":15.8},{"d":112,"v":60,"a":12.5,"b":12.5},{"d":127,"v":60,"a":12.5,"b":12.5},{"d":128,"v":60,"a":11,"b":15},{"d":130,"v":60,"a":10.9,"b":15.4},{"d":133,"v":60,"a":11,"b":14.5},{"d":134,"v":60,"a":12.5,"b":12.5},{"d":140,"v":60,"a":12.5,"b":12.5},{"d":141,"v":60,"a":10.9,"b":15.2},{"d":143,"v":60,"a":11.8,"b":13},{"d":144,"v":60,"a":11.8,"b":12.4},{"d":146,"v":60,"a":12.5,"b":12.5},{"d":157,"v":60,"a":12.2,"b":12.2},{"d":158,"v":60,"a":11.8,"b":12.4},{"d":159,"v":60,"a":12.2,"b":12.2},{"d":174,"v":60,"a":12.2,"b":12.2},{"d":175,"v":60,"a":11.8,"b":12.4},{"d":176,"v":60,"a":12.2,"b":12.2},{"d":301,"v":60,"a":12.5,"b":12.5},{"d":303,"v":60,"a":11.4,"b":14.4},{"d":305,"v":60,"a":12.5,"b":12.5},{"d":314,"v":60,"a":12.5,"b":12.5},{"d":316,"v":60,"a":11.2,"b":14.1},{"d":318,"v":60,"a":12.5,"b":12.5},{"d":320,"v":60,"a":12.5,"b":12.5},{"d":322,"v":60,"a":10.9,"b":14.6},{"d":324,"v":60,"a":12.5,"b":12.5},
{"d":99,"v":70,"a":12.5,"b":12.5},{"d":100,"v":70,"a":11.5,"b":13.5},{"d":101,"v":70,"a":12.5,"b":12.5},{"d":102,"v":70,"a":12.5,"b":12.5},{"d":104,"v":70,"a":10.9,"b":15.6},{"d":107,"v":70,"a":10.9,"b":15.5},{"d":108,"v":70,"a":12.5,"b":12.5}],
"d1":[{"d":1,"e":3,"a":1,"b":24,"v":38},{"d":3,"e":6,"a":1,"b":24,"v":30},{"d":6,"e":10,"a":1,"b":24,"v":35},{"d":10,"e":13,"a":1,"b":24,"v":53},{"d":13,"e":17,"a":1,"b":24,"v":40},{"d":17,"e":20,"a":1,"b":24,"v":42},{"d":20,"e":23,"a":1,"b":24,"v":28},{"d":23,"e":26,"a":1,"b":24,"v":34},{"d":26,"e":30,"a":1,"b":24,"v":38},{"d":30,"e":33,"a":1,"b":24,"v":26},{"d":33,"e":37,"a":1,"b":24,"v":24},{"d":37,"e":39,"a":1,"b":24,"v":18},{"d":39,"e":41,"a":1,"b":24,"v":28},{"d":41,"e":46,"a":1,"b":24,"v":43},{"d":46,"e":50,"a":1,"b":24,"v":38},{"d":50,"e":55,"a":1,"b":24,"v":14},{"d":55,"e":58,"a":1,"b":24,"v":30},{"d":58,"e":63,"a":1,"b":24,"v":36},{"d":63,"e":67,"a":1,"b":24,"v":42},{"d":67,"e":70,"a":1,"b":24,"v":52},{"d":70,"e":72,"a":1,"b":24,"v":38},{"d":72,"e":75,"a":1,"b":24,"v":47},{"d":75,"e":80,"a":1,"b":24,"v":35},{"d":80,"e":86,"a":1,"b":24,"v":40},{"d":86,"e":94,"a":1,"b":5,"v":50},{"d":86,"e":94,"a":5,"b":18,"v":45},{"d":86,"e":94,"a":18,"b":24,"v":50},{"d":94,"e":97,"a":1,"b":24,"v":45},{"d":97,"e":100,"a":1,"b":24,"v":50},{"d":100,"e":103,"a":1,"b":24,"v":42},{"d":103,"e":108,"a":1,"b":24,"v":34},{"d":108,"e":114,"a":1,"b":24,"v":45},{"d":114,"e":117,"a":1,"b":24,"v":38},{"d":117,"e":120,"a":1,"b":24,"v":22},{"d":120,"e":124,"a":1,"b":24,"v":36},{"d":124,"e":126,"a":1,"b":24,"v":42},{"d":126,"e":130,"a":1,"b":24,"v":30},{"d":130,"e":132,"a":1,"b":24,"v":38},{"d":132,"e":137,"a":1,"b":24,"v":30},{"d":137,"e":141,"a":1,"b":24,"v":33},{"d":141,"e":146,"a":1,"b":24,"v":24},{"d":146,"e":151,"a":1,"b":24,"v":30},{"d":151,"e":152,"a":1,"b":24,"v":44},{"d":152,"e":158,"a":1,"b":24,"v":32},{"d":158,"e":168,"a":1,"b":24,"v":34},{"d":168,"e":175,"a":1,"b":24,"v":30},{"d":175,"e":180,"a":1,"b":24,"v":31},{"d":180,"e":186,"a":1,"b":24,"v":28},{"d":186,"e":191,"a":1,"b":24,"v":33},{"d":191,"e":195,"a":1,"b":24,"v":24},{"d":195,"e":200,"a":1,"b":24,"v":30},{"d":200,"e":206,"a":1,"b":24,"v":26},{"d":206,"e":212,"a":1,"b":24,"v":22},{"d":212,"e":218,"a":1,"b":24,"v":24},{"d":218,"e":224,"a":1,"b":24,"v":14},{"d":224,"e":228,"a":1,"b":24,"v":18},{"d":228,"e":232,"a":1,"b":24,"v":16},{"d":232,"e":236,"a":1,"b":24,"v":20},{"d":236,"e":240,"a":1,"b":24,"v":14},{"d":240,"e":243,"a":1,"b":24,"v":28},{"d":243,"e":250,"a":1,"b":24,"v":32},{"d":250,"e":254,"a":1,"b":24,"v":36},{"d":254,"e":258,"a":1,"b":24,"v":30},{"d":258,"e":262,"a":1,"b":24,"v":24},{"d":262,"e":268,"a":1,"b":24,"v":30},{"d":268,"e":274,"a":1,"b":24,"v":34},{"d":274,"e":278,"a":1,"b":24,"v":43},{"d":278,"e":282,"a":1,"b":24,"v":32},{"d":282,"e":288,"a":1,"b":24,"v":24},{"d":288,"e":292,"a":1,"b":24,"v":28},{"d":292,"e":296,"a":1,"b":24,"v":30},{"d":296,"e":300,"a":1,"b":24,"v":34},{"d":300,"e":304,"a":1,"b":24,"v":30},{"d":304,"e":308,"a":1,"b":24,"v":44},{"d":308,"e":316,"a":1,"b":24,"v":40},{"d":316,"e":320,"a":1,"b":24,"v":48},{"d":320,"e":324,"a":1,"b":24,"v":38},{"d":324,"e":328,"a":1,"b":24,"v":30},{"d":328,"e":331,"a":1,"b":24,"v":32},{"d":331,"e":333,"a":1,"b":24,"v":60},{"d":333,"e":338,"a":1,"b":24,"v":30},{"d":338,"e":342,"a":1,"b":24,"v":28},{"d":342,"e":346,"a":1,"b":24,"v":34},{"d":346,"e":350,"a":1,"b":24,"v":38},{"d":350,"e":353,"a":1,"b":24,"v":44},{"d":353,"e":357,"a":1,"b":24,"v":32},{"d":357,"e":361,"a":1,"b":24,"v":38},{"d":361,"e":365,"a":1,"b":24,"v":36},
{"d":120,"e":124,"a":2,"b":10,"v":15},{"d":141,"e":146,"a":3,"b":12.5,"v":17},{"d":146,"e":158,"a":3,"b":10,"v":25},{"d":165,"e":175,"a":4,"b":13,"v":23},{"d":175,"e":185,"a":5,"b":15,"v":19},{"d":185,"e":192,"a":4,"b":13,"v":22},{"d":192,"e":197,"a":4,"b":18,"v":12},{"d":197,"e":207,"a":6,"b":10,"v":19},{"d":207,"e":220,"a":6,"b":15,"v":11},{"d":207,"e":220,"a":3,"b":6,"v":20},{"d":207,"e":220,"a":15,"b":20,"v":21},{"d":220,"e":228,"a":5,"b":13,"v":10},{"d":220,"e":228,"a":13,"b":24,"v":14},{"d":228,"e":236,"a":5,"b":12,"v":13}]},
"vconcat":[{"hconcat":[
{"title":{"text":"(a)","orient":"bottom","font":"Liberation Serif","fontSize":70,"fontWeight":"normal","color":"#000000","offset":136,"anchor":"middle","dx":-50},"vconcat":[{"width":6,"height":1,"data":{"values":[{"k":1}]},"mark":{"type":"rect","opacity":0},"encoding":{},"view":{"stroke":null}},{"hconcat":[{"width":6,"height":1,"data":{"values":[{"k":1}]},"mark":{"type":"rect","opacity":0},"encoding":{},"view":{"stroke":null}},
{"width":1295,"height":1037,"title":{"text":"PV fixed tilted profile","offset":7},"data":{"name":"a1"},"view":{"fill":"#000080"},"encoding":{"x":{"field":"d","type":"quantitative","title":"Days of a year","scale":{"domain":[1,365],"nice":false,"zero":false},"axis":{"values":[50,100,150,200,250,300,350]}},"y":{"type":"quantitative","title":"Hours of a day (UTC -7)","scale":{"domain":[1,24],"nice":false,"zero":false},"axis":{"values":[2,4,6,8,10,12,14,16,18,20,22,24]}}},
"layer":[
{"mark":{"type":"area","clip":true},"encoding":{"y":{"field":"a1","type":"quantitative"},"y2":{"field":"b1"},"color":{"datum":10,"type":"quantitative","scale":{"domain":[0,70]},"legend":null}}},
{"mark":{"type":"area","clip":true},"encoding":{"y":{"field":"a2","type":"quantitative"},"y2":{"field":"b2"},"color":{"datum":20,"type":"quantitative","scale":{"domain":[0,70]},"legend":null}}},
{"mark":{"type":"area","clip":true},"encoding":{"y":{"field":"a3","type":"quantitative"},"y2":{"field":"b3"},"color":{"datum":30,"type":"quantitative","scale":{"domain":[0,70]},"legend":null}}},
{"data":{"name":"a2"},"mark":{"type":"area","clip":true},"encoding":{"y":{"field":"a","type":"quantitative"},"y2":{"field":"b"},"color":{"field":"v","type":"quantitative","scale":{"domain":[0,70]},"legend":null}}}]},
{"width":23,"height":1037,"data":{"name":"bar"},"mark":"rect","encoding":{"y":{"field":"a","type":"quantitative","title":"Capacity factor","scale":{"domain":[0,70],"nice":false},"axis":{"orient":"right","values":[0,10,20,30,40,50,60,70],"labelExpr":"datum.value+'%'","ticks":false,"labelPadding":8,"labelFontSize":34,"titlePadding":12,"titleFontSize":36}},"y2":{"field":"b"},"color":{"field":"v","type":"quantitative","scale":{"domain":[0,70]},"legend":null}}}]}],"spacing":0},
{"title":{"text":"(b)","orient":"bottom","font":"Liberation Serif","fontSize":70,"fontWeight":"normal","color":"#000000","offset":124,"anchor":"middle","dx":90},"vconcat":[{"width":10,"height":14,"data":{"values":[{"k":1}]},"mark":{"type":"rect","opacity":0},"encoding":{},"view":{"stroke":null}},{"hconcat":[
{"width":1296,"height":1037,"title":{"text":"PV single-axis profile","offset":7},"data":{"name":"b1"},"view":{"fill":"#000080"},"encoding":{"x":{"field":"d","type":"quantitative","title":"Days of a year","scale":{"domain":[1,365],"nice":false,"zero":false},"axis":{"values":[50,100,150,200,250,300,350]}},"y":{"type":"quantitative","title":"Hours of a day (UTC -7)","scale":{"domain":[1,24],"nice":false,"zero":false},"axis":{"values":[2,4,6,8,10,12,14,16,18,20,22,24]}}},
"layer":[
{"mark":{"type":"area","clip":true},"encoding":{"y":{"field":"a1","type":"quantitative"},"y2":{"field":"b1"},"color":{"datum":10,"type":"quantitative","scale":{"domain":[0,70]},"legend":null}}},
{"mark":{"type":"area","clip":true},"encoding":{"y":{"field":"a2","type":"quantitative"},"y2":{"field":"b2"},"color":{"datum":20,"type":"quantitative","scale":{"domain":[0,70]},"legend":null}}},
{"mark":{"type":"area","clip":true},"encoding":{"y":{"field":"a3","type":"quantitative"},"y2":{"field":"b3"},"color":{"datum":30,"type":"quantitative","scale":{"domain":[0,70]},"legend":null}}},
{"data":{"name":"b2"},"mark":{"type":"area","clip":true},"encoding":{"y":{"field":"a","type":"quantitative"},"y2":{"field":"b"},"color":{"field":"v","type":"quantitative","scale":{"domain":[0,70]},"legend":null}}}]},
{"width":23,"height":1037,"data":{"name":"bar"},"mark":"rect","encoding":{"y":{"field":"a","type":"quantitative","title":"Capacity factor","scale":{"domain":[0,70],"nice":false},"axis":{"orient":"right","values":[0,10,20,30,40,50,60,70],"labelExpr":"datum.value+'%'","ticks":false,"labelPadding":8,"labelFontSize":34,"titlePadding":12,"titleFontSize":36}},"y2":{"field":"b"},"color":{"field":"v","type":"quantitative","scale":{"domain":[0,70]},"legend":null}}}]}],"spacing":0}],"spacing":157},
{"hconcat":[
{"title":{"text":"(c)","orient":"bottom","font":"Liberation Serif","fontSize":70,"fontWeight":"normal","color":"#000000","offset":45,"anchor":"middle","dx":-48},"hconcat":[{"width":1,"height":1,"data":{"values":[{"k":1}]},"mark":{"type":"rect","opacity":0},"encoding":{},"view":{"stroke":null}},
{"width":1297,"height":1038,"title":{"text":"CSP profile","offset":7},"data":{"name":"c1"},"view":{"fill":"#000080"},"encoding":{"x":{"field":"d","type":"quantitative","title":"Days of a year","scale":{"domain":[1,365],"nice":false,"zero":false},"axis":{"values":[50,100,150,200,250,300,350]}},"y":{"type":"quantitative","title":"Hours of a day (UTC -7)","scale":{"domain":[1,24],"nice":false,"zero":false},"axis":{"values":[2,4,6,8,10,12,14,16,18,20,22,24]}}},
"layer":[
{"mark":{"type":"area","clip":true},"encoding":{"y":{"field":"a1","type":"quantitative"},"y2":{"field":"b1"},"color":{"datum":10,"type":"quantitative","scale":{"domain":[0,70]},"legend":null}}},
{"mark":{"type":"area","clip":true},"encoding":{"y":{"field":"a2","type":"quantitative"},"y2":{"field":"b2"},"color":{"datum":20,"type":"quantitative","scale":{"domain":[0,70]},"legend":null}}},
{"mark":{"type":"area","clip":true},"encoding":{"y":{"field":"a3","type":"quantitative"},"y2":{"field":"b3"},"color":{"datum":30,"type":"quantitative","scale":{"domain":[0,70]},"legend":null}}},
{"data":{"name":"c2"},"mark":{"type":"area","clip":true},"encoding":{"y":{"field":"a","type":"quantitative"},"y2":{"field":"b"},"color":{"field":"v","type":"quantitative","scale":{"domain":[0,70]},"legend":null}}}]},
{"width":23,"height":1038,"data":{"name":"bar"},"mark":"rect","encoding":{"y":{"field":"a","type":"quantitative","title":"Capacity factor","scale":{"domain":[0,70],"nice":false},"axis":{"orient":"right","values":[0,10,20,30,40,50,60,70],"labelExpr":"datum.value+'%'","ticks":false,"labelPadding":8,"labelFontSize":34,"titlePadding":12,"titleFontSize":36}},"y2":{"field":"b"},"color":{"field":"v","type":"quantitative","scale":{"domain":[0,70]},"legend":null}}}]},
{"title":{"text":"(d)","orient":"bottom","font":"Liberation Serif","fontSize":70,"fontWeight":"normal","color":"#000000","offset":45,"anchor":"middle","dx":90},"hconcat":[
{"width":1300,"height":1037,"title":{"text":"Wind profile","offset":7},"data":{"name":"d1"},"view":{"fill":"#00e8d0"},"mark":{"type":"rect","clip":true},"encoding":{"x":{"field":"d","type":"quantitative","title":"Days of a year","scale":{"domain":[1,365],"nice":false,"zero":false},"axis":{"values":[50,100,150,200,250,300,350]}},"x2":{"field":"e"},"y":{"field":"a","type":"quantitative","title":"Hours of a day (UTC -7)","scale":{"domain":[1,24],"nice":false,"zero":false},"axis":{"values":[2,4,6,8,10,12,14,16,18,20,22,24]}},"y2":{"field":"b"},"color":{"field":"v","type":"quantitative","scale":{"domain":[0,70]},"legend":null}}},
{"width":23,"height":1037,"data":{"name":"bar"},"mark":"rect","encoding":{"y":{"field":"a","type":"quantitative","title":"Capacity factor","scale":{"domain":[0,70],"nice":false},"axis":{"orient":"right","values":[0,10,20,30,40,50,60,70],"labelExpr":"datum.value+'%'","ticks":false,"labelPadding":8,"labelFontSize":34,"titlePadding":12,"titleFontSize":36}},"y2":{"field":"b"},"color":{"field":"v","type":"quantitative","scale":{"domain":[0,70]},"legend":null}}}]}],"spacing":159}],"spacing":36}
